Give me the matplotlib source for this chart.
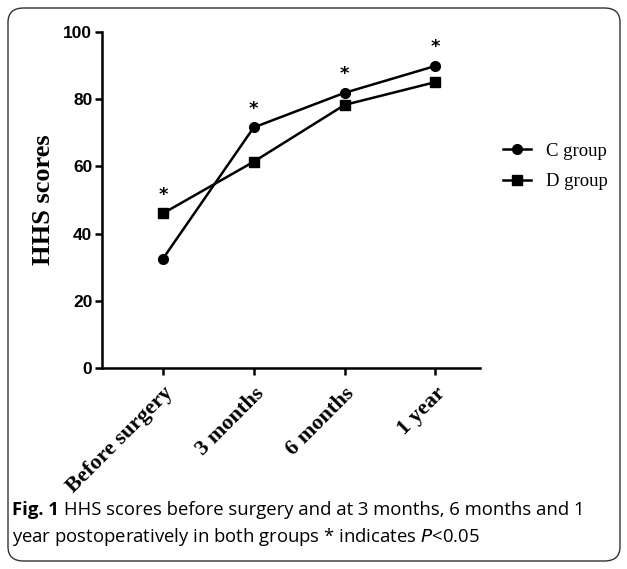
import matplotlib.pyplot as plt
from matplotlib.patches import FancyBboxPatch

# data
timepoints = ['Before surgery', '3 months', '6 months', '1 year']
c_group = [32.5, 71.6, 81.9, 89.9]
d_group = [46.0, 61.4, 78.3, 85.1]
star_offset = 5.5

W, H = 627, 569
fig = plt.figure(figsize=(W / 100, H / 100), dpi=100)

# rounded frame round the figure panel
frame = FancyBboxPatch((8 / W, 8 / H), 612 / W, 553 / H,
                       boxstyle='round,pad=0,rounding_size=0.025',
                       transform=fig.transFigure, fill=False,
                       edgecolor='#333333', linewidth=1.0)
fig.patches.append(frame)

ax = fig.add_axes([102 / W, 1 - 368 / H, (480 - 102) / W, (368 - 32) / H])
x = list(range(len(timepoints)))

ax.plot(x, c_group, '-o', color='black', lw=1.8, ms=7, label='C group', clip_on=False)
ax.plot(x, d_group, '-s', color='black', lw=1.8, ms=7, label='D group', clip_on=False)

for xi, a, b in zip(x, c_group, d_group):
    ax.text(xi, max(a, b) + star_offset, '*', ha='center', va='center',
            fontsize=13, fontweight='bold', family='DejaVu Sans')

ax.set_xlim(-0.67, 3.49)
ax.set_ylim(0, 100)
ax.set_yticks([0, 20, 40, 60, 80, 100])
ax.set_xticks(x)
ax.set_xticklabels(timepoints, rotation=45, ha='right', rotation_mode='anchor',
                   family='Liberation Serif', fontweight='bold', fontsize=16)
for lbl in ax.get_yticklabels():
    lbl.set_family('Liberation Sans')
    lbl.set_fontweight('bold')
    lbl.set_fontsize(12.5)

for s in ['top', 'right']:
    ax.spines[s].set_visible(False)
for s in ['left', 'bottom']:
    ax.spines[s].set_linewidth(1.8)
ax.tick_params(direction='out', length=5, width=1.8, pad=2)
ax.tick_params(axis='x', pad=6)

ax.set_ylabel('HHS scores', family='Liberation Serif', fontweight='bold',
              fontsize=19)
ax.yaxis.set_label_coords(-47 / 378, 0.5)

leg = ax.legend(loc='center left', bbox_to_anchor=(1.04, 0.6), frameon=False,
                prop={'family': 'Liberation Serif', 'size': 13.5},
                handlelength=1.5, labelspacing=0.7, borderaxespad=0)

# caption
fig.canvas.draw()
r = fig.canvas.get_renderer()
t1 = fig.text(12 / W, 1 - 510 / H, 'Fig. 1', family='Open Sans', fontweight='bold',
              fontsize=13.3, va='center')
bb = t1.get_window_extent(renderer=r)
fig.text(bb.x1 / W + 5 / W, 1 - 510 / H,
         'HHS scores before surgery and at 3 months, 6 months and 1',
         family='Open Sans', fontsize=13.3, va='center')
fig.text(12 / W, 1 - 537 / H,
         'year postoperatively in both groups * indicates $\\it{P}$<0.05',
         family='Open Sans', fontsize=13.3, va='center')

fig.savefig('out.png', dpi=100)
